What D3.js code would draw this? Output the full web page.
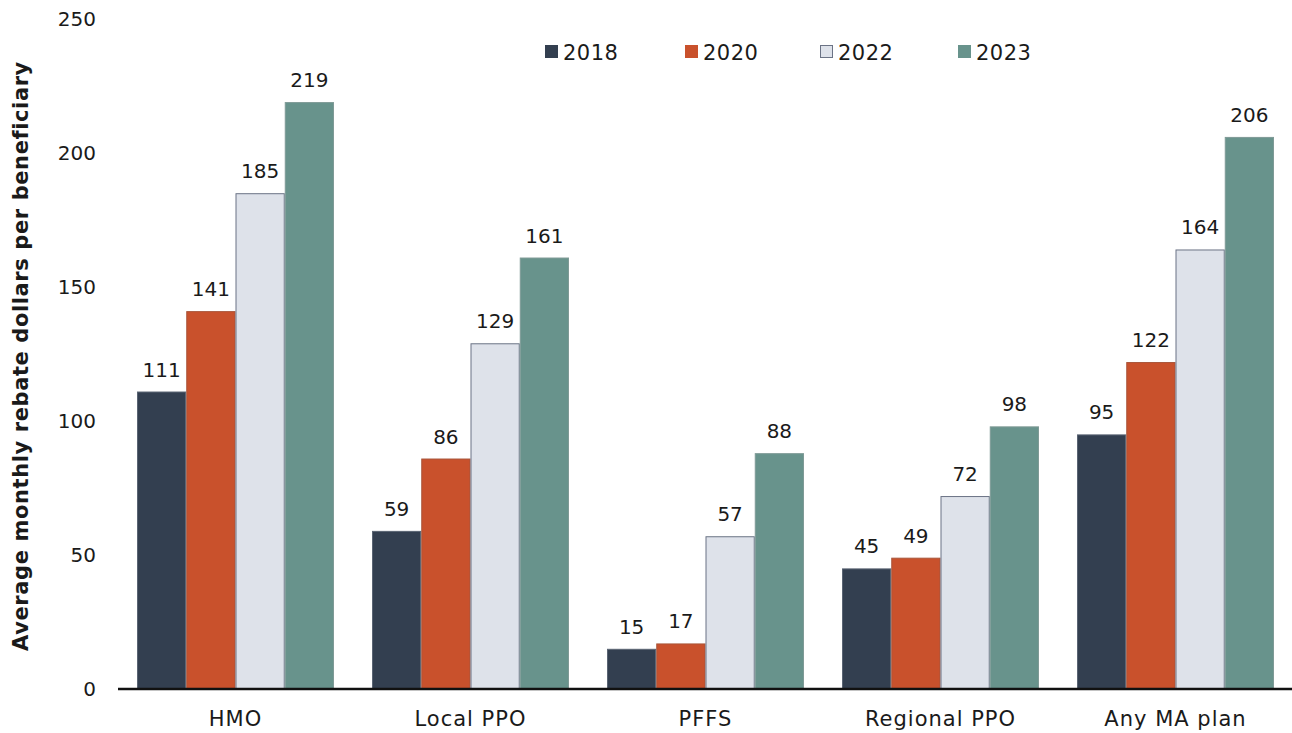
<!DOCTYPE html>
<html>
<head>
<meta charset="utf-8">
<script src="https://cdn.jsdelivr.net/npm/d3@7"></script>
<style>
  html, body { margin: 0; padding: 0; background: #fff; }
  svg { display: block; font-family: "DejaVu Sans", "Noto Sans", sans-serif; }
</style>
</head>
<body>
<svg id="chart" width="1292" height="733"></svg>
<script>
// Plan types along the x axis
const categories = ["HMO", "Local PPO", "PFFS", "Regional PPO", "Any MA plan"];
// Years shown as grouped bars
const years = ["2018", "2020", "2022", "2023"];
// Average monthly rebate dollars per beneficiary, one array per year
const values2018 = [111, 59, 15, 45, 95];
const values2020 = [141, 86, 17, 49, 122];
const values2022 = [185, 129, 57, 72, 164];
const values2023 = [219, 161, 88, 98, 206];
const yTicks = [0, 50, 100, 150, 200, 250];
const yTitle = "Average monthly rebate dollars per beneficiary";

const seriesValues = [values2018, values2020, values2022, values2023];
const fills = ["#333f50", "#c9512c", "#dee2ea", "#68938c"];
const strokes = ["#5a6473", "#a9553a", "#6b7385", "#7f9a96"];

const svg = d3.select("#chart");

const x0 = d3.scaleBand().domain(categories).range([118, 1293]).paddingInner(0).paddingOuter(0);
const groupPad = 19;
const x1 = d3.scaleBand().domain(years).range([groupPad, x0.bandwidth() - groupPad]).padding(0);
const y = d3.scaleLinear().domain([0, 250]).range([689, 19]);

// Bars
const groups = svg.append("g").selectAll("g")
  .data(categories)
  .join("g")
  .attr("transform", d => `translate(${x0(d)},0)`);

groups.selectAll("rect")
  .data((c, ci) => years.map((yr, si) => ({ yr, si, v: seriesValues[si][ci] })))
  .join("rect")
  .attr("x", d => x1(d.yr) + 0.5)
  .attr("y", d => y(d.v) + 0.5)
  .attr("width", x1.bandwidth() - 1)
  .attr("height", d => y(0) - y(d.v) - 0.5)
  .attr("fill", d => fills[d.si])
  .attr("stroke", d => strokes[d.si])
  .attr("stroke-width", 1);

// Value labels
groups.selectAll("text.val")
  .data((c, ci) => years.map((yr, si) => ({ yr, si, v: seriesValues[si][ci] })))
  .join("text")
  .attr("class", "val")
  .attr("x", d => x1(d.yr) + x1.bandwidth() / 2)
  .attr("y", d => y(d.v) - 15)
  .attr("text-anchor", "middle")
  .attr("font-size", 20)
  .attr("fill", "#1a1a1a")
  .text(d => d.v);

// Y tick labels (no axis line)
const yAxis = svg.append("g")
  .attr("transform", "translate(96,0)")
  .call(d3.axisLeft(y).tickValues(yTicks).tickSize(0).tickPadding(0));
yAxis.select(".domain").remove();
yAxis.selectAll("text")
  .attr("font-size", 20)
  .attr("font-family", "DejaVu Sans, sans-serif")
  .attr("fill", "#1a1a1a");

// X axis
const xAxis = svg.append("g")
  .attr("transform", "translate(0,689)")
  .call(d3.axisBottom(x0).tickSize(0).tickPadding(22));
xAxis.select(".domain").attr("stroke", "#111").attr("stroke-width", 2.5)
  .attr("d", "M118,0H1292");
xAxis.selectAll("text")
  .attr("font-size", 21)
  .attr("letter-spacing", "1px")
  .attr("font-family", "DejaVu Sans, sans-serif")
  .attr("fill", "#1a1a1a");

// Y axis title
svg.append("text")
  .attr("transform", "translate(28,356) rotate(-90)")
  .attr("text-anchor", "middle")
  .attr("font-size", 21)
  .attr("letter-spacing", "0.6px")
  .attr("font-weight", "bold")
  .attr("fill", "#1a1a1a")
  .text(yTitle);

// Legend
const legendX = [545, 685, 820, 958];
const legend = svg.append("g").selectAll("g")
  .data(years)
  .join("g")
  .attr("transform", (d, i) => `translate(${legendX[i]},52)`);
legend.append("rect")
  .attr("x", 0.5).attr("y", -6.5)
  .attr("width", 12).attr("height", 12)
  .attr("fill", (d, i) => fills[i])
  .attr("stroke", (d, i) => i === 2 ? "#6b7385" : fills[i]);
legend.append("text")
  .attr("x", 18)
  .attr("y", 0)
  .attr("dy", "0.36em")
  .attr("font-size", 21)
  .attr("letter-spacing", "0.5px")
  .attr("fill", "#1a1a1a")
  .text(d => d);
</script>
</body>
</html>
